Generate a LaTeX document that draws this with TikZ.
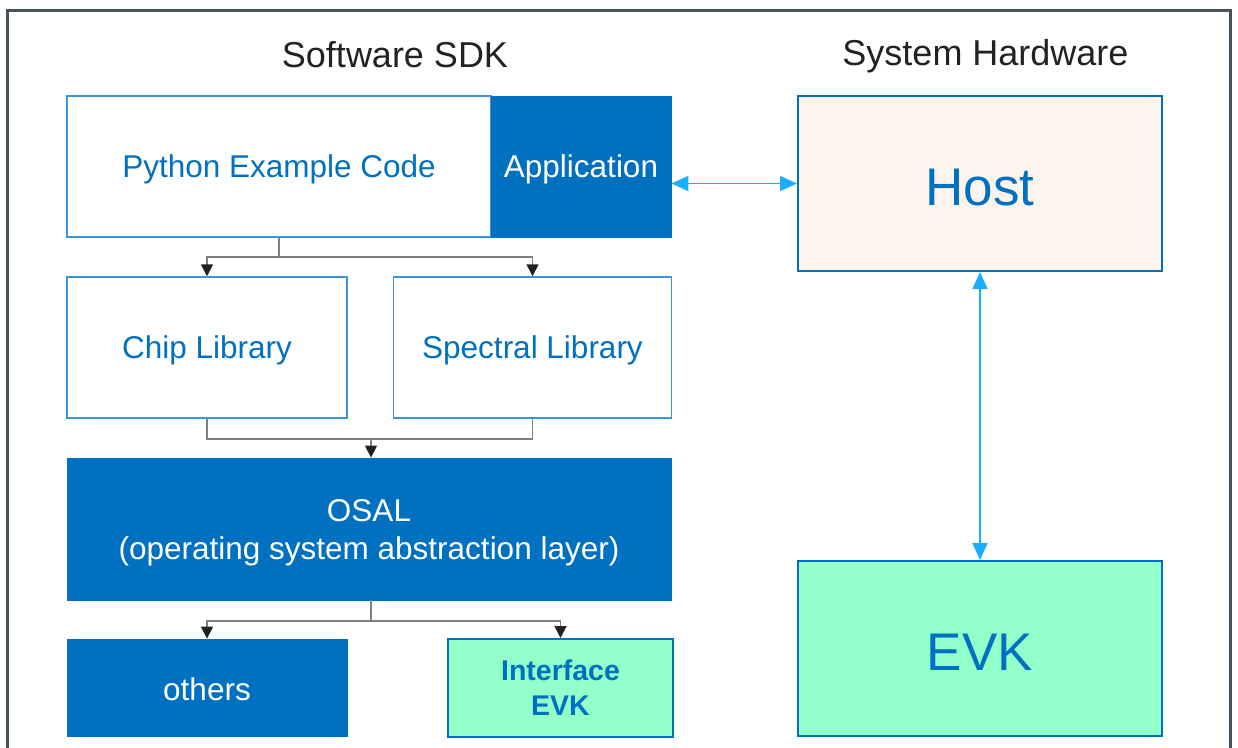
\documentclass[tikz,border=0pt]{standalone}
\usepackage{fontspec}
\setmainfont{Liberation Sans}
\usetikzlibrary{arrows.meta}
\definecolor{dblue}{HTML}{0070C0}
\definecolor{lblue}{HTML}{3A96D8}
\definecolor{cyanarr}{HTML}{1AAEFF}
\definecolor{frame}{HTML}{46525C}
\definecolor{hostfill}{HTML}{FDF4EE}
\definecolor{evkfill}{HTML}{93FFC9}
\definecolor{conn}{HTML}{808080}
\definecolor{titlec}{HTML}{222222}
\tikzset{
  boxw/.style={draw=lblue, line width=1.5pt, fill=white, text=dblue, inner sep=0pt, text depth=-0.5pt, font=\fontsize{31.5}{36}\selectfont},
  boxb/.style={draw=dblue, line width=0.8pt, fill=dblue, text=white, inner sep=0pt, font=\fontsize{31.5}{38}\selectfont, align=center},
  boxh/.style={draw=dblue, line width=2pt, inner sep=0pt, text=dblue, font=\fontsize{53}{60}\selectfont},
  title/.style={text=titlec, font=\fontsize{36}{40}\selectfont},
  connl/.style={draw=conn, line width=1.5pt},
  conna/.style={draw=conn, line width=1.5pt, -{Triangle[length=12pt,width=12pt,fill=titlec,color=titlec]}},
  cya/.style={draw=cyanarr, line width=1.5pt, {Triangle[length=17pt,width=15pt]}-{Triangle[length=17pt,width=15pt]}},
}
\begin{document}
\begin{tikzpicture}[x=1pt,y=-1pt]
\useasboundingbox (0,0) rectangle (1238,747);
\clip (0,0) rectangle (1238,747);
\draw[frame, line width=3pt] (7.5,10.5) rectangle (1230.5,800);

\node[title] (t1) at (395,55) {Software SDK};
\node[title] (t2) at (985.5,56) {System Hardware};

\node[boxw, minimum width=424pt, minimum height=141pt] (py) at (279,166.5) {Python Example Code};
\node[boxb, text depth=-0.5pt, minimum width=180pt, minimum height=141pt] (app) at (581,166.5) {Application};
\node[boxh, text height=43pt, text depth=0pt, fill=hostfill, minimum width=364pt, minimum height=175pt] (host) at (980,183.5) {Host};

\node[boxw, minimum width=280pt, minimum height=141pt] (chip) at (207,347.5) {Chip Library};
\node[boxw, minimum width=278pt, minimum height=141pt] (spec) at (532.5,347.5) {Spectral Library};

\node[boxb, text depth=-1pt, minimum width=604pt, minimum height=142pt] (osal) at (369,529) {OSAL\\(operating system abstraction layer)};

\node[boxb, text height=25pt, text depth=0pt, minimum width=280pt, minimum height=97pt] (others) at (207,687.5) {others};
\node[boxh, fill=evkfill, minimum width=225pt, minimum height=98pt, align=center, font=\bfseries\fontsize{28.5}{35}\selectfont] (iface) at (560.5,688) {Interface\\EVK};
\node[boxh, text height=43pt, text depth=0pt, fill=evkfill, minimum width=364pt, minimum height=175pt] (evk) at (980,648.5) {EVK};

% connectors
\coordinate (j0) at (279,257);
\draw[connl] (py.south) -- (j0);
\draw[conna] (j0) -| (chip.north);
\draw[conna] (j0) -| (spec.north);

\coordinate (j1) at (371,439);
\draw[connl] (chip.south) |- (j1) -| (spec.south);
\draw[conna] (j1) -- (j1 |- osal.north);

\coordinate (j2) at (371,621);
\draw[connl] (j2 |- osal.south) -- (j2);
\draw[conna] (j2) -| (others.north);
\draw[conna] (j2) -| (iface.north);

\draw[cya] (app.east |- host.west) -- (host.west);
\draw[cya] (host.south) -- (evk.north);
\end{tikzpicture}
\end{document}
